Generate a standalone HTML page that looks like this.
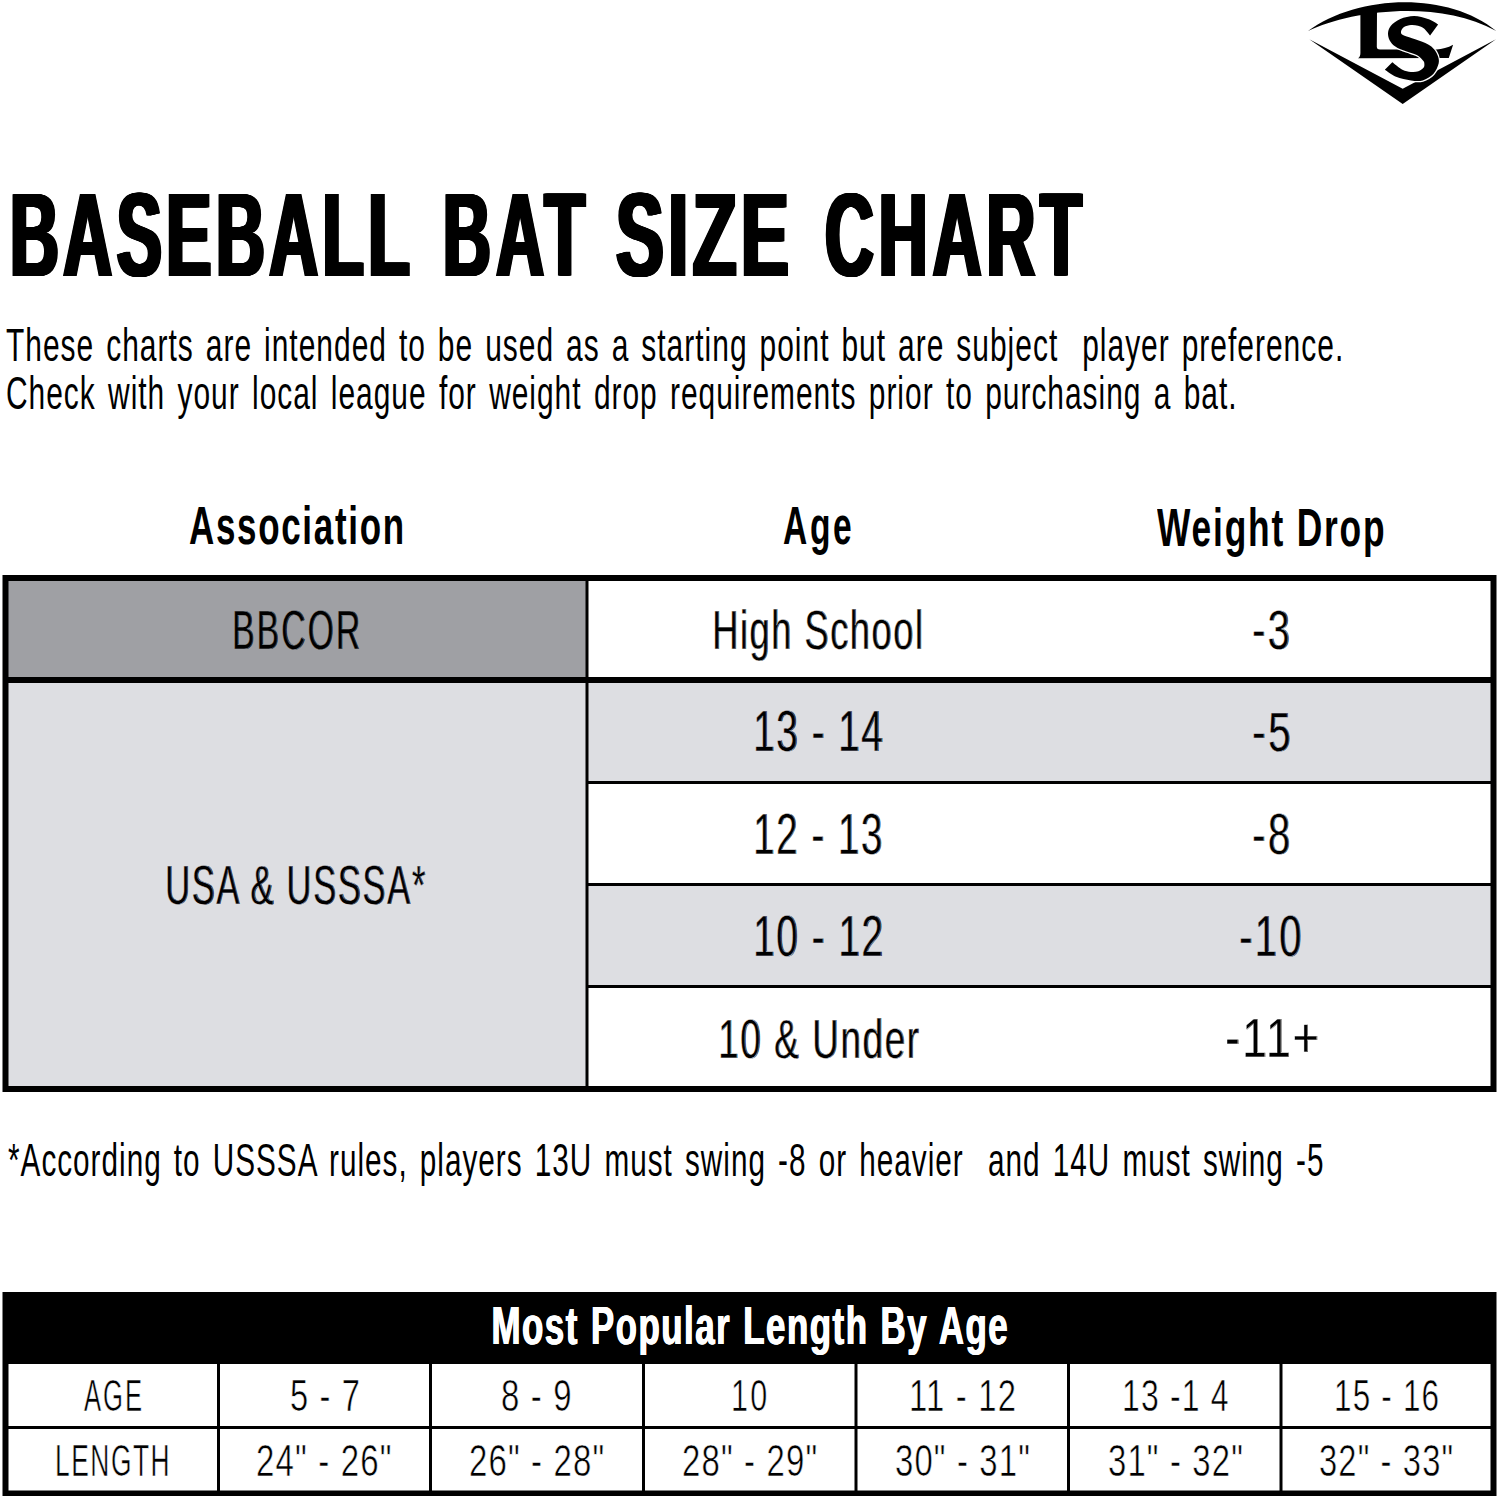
<!DOCTYPE html>
<html><head><meta charset="utf-8"><title>Baseball Bat Size Chart</title>
<style>
html,body{margin:0;padding:0;background:#fff;}
body{width:1500px;height:1499px;position:relative;overflow:hidden;font-family:"Liberation Sans",sans-serif;}
.t{position:absolute;white-space:pre;transform-origin:0 0;}
svg{position:absolute;left:0;top:0;}
</style></head><body>
<svg width="1500" height="1499" viewBox="0 0 1500 1499">
<rect x="2.5" y="575" width="1494" height="517" fill="#000"/>
<rect x="8.5" y="581" width="577" height="96" fill="#9fa0a4"/>
<rect x="588.5" y="581" width="902" height="96" fill="#fff"/>
<rect x="8.5" y="683" width="577" height="403" fill="#dddee2"/>
<rect x="588.5" y="683" width="902" height="98" fill="#dddee2"/>
<rect x="588.5" y="784" width="902" height="99" fill="#fff"/>
<rect x="588.5" y="886" width="902" height="99" fill="#dddee2"/>
<rect x="588.5" y="988" width="902" height="98" fill="#fff"/>
<rect x="2.5" y="1292" width="1494" height="204" fill="#000"/>
<rect x="8.5" y="1364" width="208.5" height="62" fill="#fff"/>
<rect x="8.5" y="1429" width="208.5" height="61.5" fill="#fff"/>
<rect x="220" y="1364" width="209" height="62" fill="#fff"/>
<rect x="220" y="1429" width="209" height="61.5" fill="#fff"/>
<rect x="432" y="1364" width="210" height="62" fill="#fff"/>
<rect x="432" y="1429" width="210" height="61.5" fill="#fff"/>
<rect x="645" y="1364" width="209.5" height="62" fill="#fff"/>
<rect x="645" y="1429" width="209.5" height="61.5" fill="#fff"/>
<rect x="857.5" y="1364" width="209.5" height="62" fill="#fff"/>
<rect x="857.5" y="1429" width="209.5" height="61.5" fill="#fff"/>
<rect x="1070" y="1364" width="209.5" height="62" fill="#fff"/>
<rect x="1070" y="1429" width="209.5" height="61.5" fill="#fff"/>
<rect x="1282.5" y="1364" width="208.0" height="62" fill="#fff"/>
<rect x="1282.5" y="1429" width="208.0" height="61.5" fill="#fff"/>
<g id="logo">
<path d="M1308 31 C1356.01 -4.67 1446.22 -9.96 1496.3 31 C1436.21 -1.82 1349.21 11.26 1308 31 Z" fill="#000"/>
<path d="M1309.3 39.3 L1402.7 104 L1496 39.3 L1402.7 88.7 Z" fill="#000"/>
<path d="M1360.4 14 L1377 11.5 L1376.8 47 Q1377 49.5 1380 49.5 L1436.5 49.5 C1442 49.2 1448 47.5 1453.1 44.7 L1448.8 58 L1358 58.2 Q1360.4 57 1360.4 53 Z" fill="#000"/>
<path d="M1438.1 24.4 C1436.42 23.52 1432.00 20.48 1428.00 19.10 C1424.00 17.72 1418.72 16.10 1414.10 16.10 C1409.48 16.10 1404.20 17.45 1400.30 19.10 C1396.40 20.75 1392.75 23.52 1390.70 26.00 C1388.65 28.48 1388.00 31.33 1388.00 34.00 C1388.00 36.67 1389.10 39.68 1390.70 42.00 C1392.30 44.32 1394.32 46.12 1397.60 47.90 C1400.88 49.68 1406.93 51.37 1410.40 52.70 C1413.87 54.03 1416.27 54.57 1418.40 55.90 C1420.53 57.23 1422.22 59.47 1423.20 60.70 C1424.18 61.93 1424.22 62.15 1424.30 63.30 C1424.38 64.45 1424.68 66.27 1423.70 67.60 C1422.72 68.93 1420.53 70.58 1418.40 71.30 C1416.27 72.02 1413.57 72.17 1410.90 71.90 C1408.23 71.63 1405.50 71.30 1402.40 69.70 C1399.30 68.10 1393.98 63.53 1392.30 62.30 L1384.8 69.7 C1386.67 70.87 1391.65 74.92 1396.00 76.70 C1400.35 78.48 1406.45 79.78 1410.90 80.40 C1415.35 81.02 1418.97 81.47 1422.70 80.40 C1426.43 79.33 1430.63 76.85 1433.30 74.00 C1435.97 71.15 1437.98 66.42 1438.70 63.30 C1439.42 60.18 1438.50 57.78 1437.60 55.30 C1436.70 52.82 1435.35 50.43 1433.30 48.40 C1431.25 46.37 1428.85 44.78 1425.30 43.10 C1421.75 41.42 1415.73 39.63 1412.00 38.30 C1408.27 36.97 1404.73 36.23 1402.90 35.10 C1401.07 33.97 1400.82 32.85 1401.00 31.50 C1401.18 30.15 1402.33 28.08 1404.00 27.00 C1405.67 25.92 1408.67 25.20 1411.00 25.00 C1413.33 24.80 1415.83 25.22 1418.00 25.80 C1420.17 26.38 1421.98 26.87 1424.00 28.50 C1426.02 30.13 1429.08 34.42 1430.10 35.60 Z" fill="#000" stroke="#fff" stroke-width="2.6" paint-order="stroke"/>
</g>
</svg>
<div class="t" style="left:8.30px;top:175.65px;font-size:118.41px;line-height:118.41px;font-weight:700;color:#000;transform:scaleX(0.5712);letter-spacing:7.869px;word-spacing:0.000px;text-shadow:0.88px 0 0 #000,1.76px 0 0 #000,2.64px 0 0 #000,3.52px 0 0 #000,4.41px 0 0 #000,5.29px 0 0 #000,6.17px 0 0 #000,7.05px 0 0 #000">BASEBALL</div>
<div class="t" style="left:440.70px;top:175.65px;font-size:118.41px;line-height:118.41px;font-weight:700;color:#000;transform:scaleX(0.5587);letter-spacing:9.807px;word-spacing:0.000px;text-shadow:0.90px 0 0 #000,1.80px 0 0 #000,2.70px 0 0 #000,3.60px 0 0 #000,4.50px 0 0 #000,5.40px 0 0 #000,6.31px 0 0 #000,7.21px 0 0 #000">BAT</div>
<div class="t" style="left:613.85px;top:175.65px;font-size:118.41px;line-height:118.41px;font-weight:700;color:#000;transform:scaleX(0.6056);letter-spacing:7.396px;word-spacing:0.000px;text-shadow:0.83px 0 0 #000,1.66px 0 0 #000,2.49px 0 0 #000,3.32px 0 0 #000,4.15px 0 0 #000,4.99px 0 0 #000,5.82px 0 0 #000,6.65px 0 0 #000">SIZE</div>
<div class="t" style="left:823.30px;top:175.65px;font-size:118.41px;line-height:118.41px;font-weight:700;color:#000;transform:scaleX(0.5704);letter-spacing:8.880px;word-spacing:0.000px;text-shadow:0.88px 0 0 #000,1.76px 0 0 #000,2.65px 0 0 #000,3.53px 0 0 #000,4.41px 0 0 #000,5.29px 0 0 #000,6.18px 0 0 #000,7.06px 0 0 #000">CHART</div>
<div class="t" style="left:5.95px;top:321.51px;font-size:46.38px;line-height:46.38px;font-weight:400;color:#000;transform:scaleX(0.6459);letter-spacing:1.548px;word-spacing:4.101px">These charts are intended to be used as a starting point but are subject  player preference.</div>
<div class="t" style="left:5.81px;top:370.97px;font-size:45.36px;line-height:45.36px;font-weight:400;color:#000;transform:scaleX(0.6588);letter-spacing:1.518px;word-spacing:4.630px">Check with your local league for weight drop requirements prior to purchasing a bat.</div>
<div class="t" style="left:188.73px;top:499.35px;font-size:54.49px;line-height:54.49px;font-weight:700;color:#000;transform:scaleX(0.6414);letter-spacing:2.644px;word-spacing:0.000px">Association</div>
<div class="t" style="left:783.16px;top:499.35px;font-size:54.49px;line-height:54.49px;font-weight:700;color:#000;transform:scaleX(0.6163);letter-spacing:4.336px;word-spacing:0.000px">Age</div>
<div class="t" style="left:1157.30px;top:499.62px;font-size:54.06px;line-height:54.06px;font-weight:700;color:#000;transform:scaleX(0.6541);letter-spacing:2.766px;word-spacing:0.000px">Weight Drop</div>
<div class="t" style="left:232.05px;top:602.86px;font-size:55.57px;line-height:55.57px;font-weight:400;color:#000;transform:scaleX(0.6040);letter-spacing:3.571px;word-spacing:0.000px;-webkit-text-stroke:0.44px #9fa0a4;text-shadow:0.92px 0 0 #000">BBCOR</div>
<div class="t" style="left:712.10px;top:603.23px;font-size:55.13px;line-height:55.13px;font-weight:400;color:#000;transform:scaleX(0.6607);letter-spacing:2.172px;word-spacing:0.000px;-webkit-text-stroke:0.44px #fff;text-shadow:0.83px 0 0 #000">High School</div>
<div class="t" style="left:1252.01px;top:603.14px;font-size:55.72px;line-height:55.72px;font-weight:400;color:#000;transform:scaleX(0.7129);letter-spacing:3.313px;word-spacing:0.000px;-webkit-text-stroke:0.45px #fff;text-shadow:0.78px 0 0 #000">-3</div>
<div class="t" style="left:164.63px;top:858.16px;font-size:55.57px;line-height:55.57px;font-weight:400;color:#000;transform:scaleX(0.6225);letter-spacing:2.624px;word-spacing:0.000px;-webkit-text-stroke:0.44px #dddee2;text-shadow:0.89px 0 0 #000">USA &amp; USSSA*</div>
<div class="t" style="left:753.39px;top:703.23px;font-size:57.04px;line-height:57.04px;font-weight:400;color:#000;transform:scaleX(0.6812);letter-spacing:2.147px;word-spacing:0.000px;-webkit-text-stroke:0.46px #dddee2;text-shadow:0.84px 0 0 #000">13 - 14</div>
<div class="t" style="left:1251.97px;top:704.93px;font-size:55.13px;line-height:55.13px;font-weight:400;color:#000;transform:scaleX(0.7356);letter-spacing:3.278px;word-spacing:0.000px;-webkit-text-stroke:0.44px #dddee2;text-shadow:0.75px 0 0 #000">-5</div>
<div class="t" style="left:753.40px;top:806.01px;font-size:57.18px;line-height:57.18px;font-weight:400;color:#000;transform:scaleX(0.6768);letter-spacing:2.141px;word-spacing:0.000px;-webkit-text-stroke:0.46px #fff;text-shadow:0.84px 0 0 #000">12 - 13</div>
<div class="t" style="left:1251.99px;top:806.45px;font-size:56.89px;line-height:56.89px;font-weight:400;color:#000;transform:scaleX(0.7063);letter-spacing:3.383px;word-spacing:0.000px;-webkit-text-stroke:0.46px #fff;text-shadow:0.81px 0 0 #000">-8</div>
<div class="t" style="left:753.38px;top:908.23px;font-size:57.04px;line-height:57.04px;font-weight:400;color:#000;transform:scaleX(0.6830);letter-spacing:2.132px;word-spacing:0.000px;-webkit-text-stroke:0.46px #dddee2;text-shadow:0.84px 0 0 #000">10 - 12</div>
<div class="t" style="left:1238.99px;top:908.70px;font-size:56.60px;line-height:56.60px;font-weight:400;color:#000;transform:scaleX(0.7112);letter-spacing:2.876px;word-spacing:0.000px;-webkit-text-stroke:0.45px #dddee2;text-shadow:0.80px 0 0 #000">-10</div>
<div class="t" style="left:717.84px;top:1011.25px;font-size:56.30px;line-height:56.30px;font-weight:400;color:#000;transform:scaleX(0.6568);letter-spacing:2.333px;word-spacing:0.000px;-webkit-text-stroke:0.45px #fff;text-shadow:0.86px 0 0 #000">10 &amp; Under</div>
<div class="t" style="left:1224.56px;top:1011.34px;font-size:55.72px;line-height:55.72px;font-weight:400;color:#000;transform:scaleX(0.8034);letter-spacing:2.586px;word-spacing:0.000px;-webkit-text-stroke:0.45px #fff;text-shadow:0.69px 0 0 #000">-11+</div>
<div class="t" style="left:7.55px;top:1136.81px;font-size:46.38px;line-height:46.38px;font-weight:400;color:#000;transform:scaleX(0.6407);letter-spacing:1.561px;word-spacing:4.525px">*According to USSSA rules, players 13U must swing -8 or heavier  and 14U must swing -5</div>
<div class="t" style="left:490.83px;top:1299.92px;font-size:52.75px;line-height:52.75px;font-weight:700;color:#fff;transform:scaleX(0.6610);letter-spacing:2.269px;word-spacing:1.334px;text-shadow:0.72px 0 0 #fff,1.44px 0 0 #fff">Most Popular Length By Age</div>
<div class="t" style="left:83.52px;top:1373.73px;font-size:44.23px;line-height:44.23px;font-weight:400;color:#000;transform:scaleX(0.5799);letter-spacing:3.404px;word-spacing:0.000px;-webkit-text-stroke:0.62px #fff">AGE</div>
<div class="t" style="left:289.87px;top:1373.73px;font-size:44.23px;line-height:44.23px;font-weight:400;color:#000;transform:scaleX(0.7379);letter-spacing:1.577px;word-spacing:0.000px;-webkit-text-stroke:0.62px #fff">5 - 7</div>
<div class="t" style="left:501.35px;top:1373.73px;font-size:44.23px;line-height:44.23px;font-weight:400;color:#000;transform:scaleX(0.7456);letter-spacing:1.577px;word-spacing:0.000px;-webkit-text-stroke:0.62px #fff">8 - 9</div>
<div class="t" style="left:731.40px;top:1373.73px;font-size:44.23px;line-height:44.23px;font-weight:400;color:#000;transform:scaleX(0.6909);letter-spacing:3.263px;word-spacing:0.000px;-webkit-text-stroke:0.62px #fff">10</div>
<div class="t" style="left:909.21px;top:1373.73px;font-size:44.23px;line-height:44.23px;font-weight:400;color:#000;transform:scaleX(0.7423);letter-spacing:1.606px;word-spacing:0.000px;-webkit-text-stroke:0.62px #fff">11 - 12</div>
<div class="t" style="left:1121.58px;top:1373.73px;font-size:44.23px;line-height:44.23px;font-weight:400;color:#000;transform:scaleX(0.7222);letter-spacing:1.659px;word-spacing:0.000px;-webkit-text-stroke:0.62px #fff">13 -1 4</div>
<div class="t" style="left:1334.22px;top:1373.73px;font-size:44.23px;line-height:44.23px;font-weight:400;color:#000;transform:scaleX(0.7124);letter-spacing:1.651px;word-spacing:0.000px;-webkit-text-stroke:0.62px #fff">15 - 16</div>
<div class="t" style="left:54.93px;top:1438.73px;font-size:44.23px;line-height:44.23px;font-weight:400;color:#000;transform:scaleX(0.5963);letter-spacing:2.580px;word-spacing:0.000px;-webkit-text-stroke:0.62px #fff">LENGTH</div>
<div class="t" style="left:256.42px;top:1438.73px;font-size:44.23px;line-height:44.23px;font-weight:400;color:#000;transform:scaleX(0.7471);letter-spacing:1.546px;word-spacing:0.000px;-webkit-text-stroke:0.62px #fff">24&quot; - 26&quot;</div>
<div class="t" style="left:468.82px;top:1438.73px;font-size:44.23px;line-height:44.23px;font-weight:400;color:#000;transform:scaleX(0.7448);letter-spacing:1.546px;word-spacing:0.000px;-webkit-text-stroke:0.62px #fff">26&quot; - 28&quot;</div>
<div class="t" style="left:681.62px;top:1438.73px;font-size:44.23px;line-height:44.23px;font-weight:400;color:#000;transform:scaleX(0.7448);letter-spacing:1.546px;word-spacing:0.000px;-webkit-text-stroke:0.62px #fff">28&quot; - 29&quot;</div>
<div class="t" style="left:894.96px;top:1438.73px;font-size:44.23px;line-height:44.23px;font-weight:400;color:#000;transform:scaleX(0.7428);letter-spacing:1.550px;word-spacing:0.000px;-webkit-text-stroke:0.62px #fff">30&quot; - 31&quot;</div>
<div class="t" style="left:1107.76px;top:1438.73px;font-size:44.23px;line-height:44.23px;font-weight:400;color:#000;transform:scaleX(0.7428);letter-spacing:1.550px;word-spacing:0.000px;-webkit-text-stroke:0.62px #fff">31&quot; - 32&quot;</div>
<div class="t" style="left:1319.17px;top:1438.73px;font-size:44.23px;line-height:44.23px;font-weight:400;color:#000;transform:scaleX(0.7389);letter-spacing:1.550px;word-spacing:0.000px;-webkit-text-stroke:0.62px #fff">32&quot; - 33&quot;</div>
</body></html>
